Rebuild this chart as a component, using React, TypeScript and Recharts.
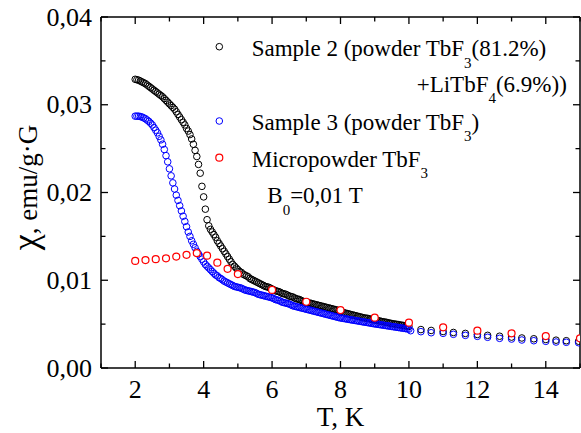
import React from 'react';
import { ScatterChart, Scatter, XAxis, YAxis, ReferenceLine, Legend } from 'recharts';

// ---------- data ----------
// temperatures of the dense measurement runs (both powder samples), K
const denseTemp = [
  2.0, 2.05, 2.1, 2.15, 2.2, 2.25, 2.3, 2.35, 2.4, 2.45, 2.5, 2.55, 2.6, 2.65, 2.7, 2.75, 2.8, 2.85, 2.9, 2.95,
  3.0, 3.05, 3.1, 3.15, 3.2, 3.25, 3.3, 3.35, 3.4, 3.45, 3.5, 3.55, 3.6, 3.65, 3.7, 3.75, 3.8, 3.85, 3.9, 3.95,
  4.0, 4.05, 4.1, 4.15, 4.2, 4.25, 4.3, 4.35, 4.4, 4.45, 4.5, 4.55, 4.6, 4.65, 4.7, 4.75, 4.8, 4.85, 4.9, 4.95,
  5.0, 5.05, 5.1, 5.15, 5.2, 5.25, 5.3, 5.35, 5.4, 5.45, 5.5, 5.55, 5.6, 5.65, 5.7, 5.75, 5.8, 5.85, 5.9, 5.95,
  6.0, 6.05, 6.1, 6.15, 6.2, 6.25, 6.3, 6.35, 6.4, 6.45, 6.5, 6.55, 6.6, 6.65, 6.7, 6.75, 6.8, 6.85, 6.9, 6.95,
  7.0, 7.05, 7.1, 7.15, 7.2, 7.25, 7.3, 7.35, 7.4, 7.45, 7.5, 7.55, 7.6, 7.65, 7.7, 7.75, 7.8, 7.85, 7.9, 7.95,
  8.0, 8.05, 8.1, 8.15, 8.2, 8.25, 8.3, 8.35, 8.4, 8.45, 8.5, 8.55, 8.6, 8.65, 8.7, 8.75, 8.8, 8.85, 8.9, 8.95,
  9.0, 9.05, 9.1, 9.15, 9.2, 9.25, 9.3, 9.35, 9.4, 9.45, 9.5, 9.55, 9.6, 9.65, 9.7, 9.75, 9.8, 9.85, 9.9, 9.95,
  10.0,
];

// Sample 2 (powder TbF3 81.2% + LiTbF4 6.9%)
const s2DenseChi = [
  0.0329, 0.03285, 0.0328, 0.0327, 0.0326, 0.0325, 0.0324, 0.03225, 0.0321, 0.03195, 0.0318, 0.03165, 0.0315, 0.03135, 0.0312, 0.03105, 0.0309, 0.0307, 0.0305, 0.0303,
  0.0301, 0.0299, 0.0297, 0.0295, 0.0292, 0.0289, 0.0286, 0.0283, 0.028, 0.0277, 0.0273, 0.027, 0.0266, 0.0261, 0.0255, 0.0248, 0.0241, 0.0232, 0.0222, 0.0207,
  0.0195, 0.0181, 0.0169, 0.0162, 0.0158, 0.0155, 0.0152, 0.0149, 0.0145, 0.0142, 0.0139, 0.0136, 0.0133, 0.013, 0.0127, 0.0124, 0.0121, 0.0118, 0.0116, 0.0114,
  0.0112, 0.011, 0.0109, 0.0107, 0.0106, 0.0105, 0.0104, 0.0102, 0.0101, 0.01, 0.0099, 0.0098, 0.0097, 0.0096, 0.0095, 0.0094, 0.0093, 0.00925, 0.0092, 0.0091,
  0.009, 0.0089, 0.0088, 0.00875, 0.0087, 0.0086, 0.0085, 0.00845, 0.0084, 0.0083, 0.0082, 0.00815, 0.0081, 0.008, 0.0079, 0.00785, 0.0078, 0.0077, 0.0076, 0.00755,
  0.0075, 0.00745, 0.0074, 0.00735, 0.0073, 0.00725, 0.0072, 0.00715, 0.0071, 0.00705, 0.007, 0.00695, 0.0069, 0.00685, 0.0068, 0.00675, 0.0067, 0.00665, 0.0066, 0.0065,
  0.0064, 0.00635, 0.0063, 0.00625, 0.0062, 0.00615, 0.0061, 0.00605, 0.006, 0.00595, 0.0059, 0.00585, 0.0058, 0.00575, 0.0057, 0.00568, 0.00565, 0.0056, 0.00555, 0.0055,
  0.00547, 0.00543, 0.0054, 0.00535, 0.0053, 0.00527, 0.00523, 0.0052, 0.00515, 0.0051, 0.00507, 0.00503, 0.005, 0.00497, 0.00494, 0.0049, 0.00487, 0.00484, 0.0048, 0.00477,
  0.00474,
];
const s2SparseTemp = [10.35, 10.65, 11.0, 11.3, 11.65, 12.0, 12.3, 12.65, 13.0, 13.3, 13.65, 14.0, 14.3, 14.6, 14.96];
const s2SparseChi = [0.00438, 0.00428, 0.00416, 0.00405, 0.00394, 0.00382, 0.00372, 0.00362, 0.00352, 0.00342, 0.00333, 0.00325, 0.00317, 0.00311, 0.00305];

// Sample 3 (powder TbF3)
const s3DenseChi = [
  0.0287, 0.0287, 0.0287, 0.02865, 0.0286, 0.0285, 0.0284, 0.02825, 0.0281, 0.0279, 0.0277, 0.0274, 0.0271, 0.0268, 0.0264, 0.026, 0.0255, 0.0249, 0.0242, 0.0235,
  0.0227, 0.0219, 0.0211, 0.0204, 0.0197, 0.0191, 0.0185, 0.0179, 0.0173, 0.0167, 0.0161, 0.0155, 0.015, 0.0145, 0.0141, 0.0137, 0.0133, 0.013, 0.0127, 0.0124,
  0.0121, 0.0118, 0.0116, 0.0114, 0.0112, 0.011, 0.0108, 0.0106, 0.0105, 0.0103, 0.0102, 0.01005, 0.0099, 0.0098, 0.0097, 0.0096, 0.0095, 0.0094, 0.0093, 0.00925,
  0.0092, 0.00915, 0.0091, 0.009, 0.0089, 0.00885, 0.0088, 0.00875, 0.0087, 0.00865, 0.0086, 0.0085, 0.0084, 0.00835, 0.0083, 0.00825, 0.0082, 0.00815, 0.0081, 0.00805,
  0.008, 0.0079, 0.0078, 0.00775, 0.0077, 0.0076, 0.0075, 0.00745, 0.0074, 0.00735, 0.0073, 0.0072, 0.0071, 0.00705, 0.007, 0.00695, 0.0069, 0.00685, 0.0068, 0.00675,
  0.0067, 0.00665, 0.0066, 0.00655, 0.0065, 0.00645, 0.0064, 0.00635, 0.0063, 0.00625, 0.0062, 0.00615, 0.0061, 0.00605, 0.006, 0.00595, 0.0059, 0.00585, 0.0058, 0.00575,
  0.0057, 0.00567, 0.00564, 0.0056, 0.00557, 0.00553, 0.0055, 0.00546, 0.00543, 0.0054, 0.00537, 0.00533, 0.0053, 0.00526, 0.00523, 0.0052, 0.00517, 0.00513, 0.0051, 0.00506,
  0.00503, 0.005, 0.00497, 0.00494, 0.00491, 0.00488, 0.00485, 0.00482, 0.00479, 0.00476, 0.00473, 0.0047, 0.00467, 0.00464, 0.00461, 0.00458, 0.00455, 0.00452, 0.00449, 0.00446,
  0.00443,
];
const s3SparseTemp = [10.05, 10.35, 10.65, 11.0, 11.3, 11.65, 12.0, 12.3, 12.65, 13.0, 13.3, 13.65, 14.0, 14.3, 14.6, 14.96];
const s3SparseChi = [0.00425, 0.00414, 0.00402, 0.00395, 0.00384, 0.00372, 0.00361, 0.0035, 0.00338, 0.0033, 0.00319, 0.00311, 0.00304, 0.00296, 0.00293, 0.00288];

// Micropowder TbF3
const microTemp = [2.0, 2.3, 2.6, 2.9, 3.2, 3.5, 3.8, 4.1, 4.4, 4.7, 5.0, 6, 7, 8, 9, 10, 11, 12, 13, 14, 15];
const microChi = [
  0.0122, 0.0123, 0.0124, 0.0125, 0.0127, 0.0129, 0.0131, 0.0128, 0.012, 0.0113, 0.0107,
  0.0089, 0.00755, 0.0066, 0.00573, 0.00516, 0.00463, 0.00425, 0.00395, 0.00364, 0.00338,
];

const xTicks = [1, 2, 3, 4, 5, 6, 7, 8, 9, 10, 11, 12, 13, 14, 15];
const xLabelTicks = [2, 4, 6, 8, 10, 12, 14];
const yTicks = [0, 0.005, 0.01, 0.015, 0.02, 0.025, 0.03, 0.035, 0.04];

// ---------- layout ----------
const W = 581;
const H = 433;
const MARGIN = { top: 17, right: 1, bottom: 5, left: 41 };
const Y_AXIS_W = 60;
const X_AXIS_H = 60;
const PLOT_TOP = MARGIN.top;
const PLOT_RIGHT = W - MARGIN.right;
const FONT = 'Liberation Serif';
const TICK_FS = 26;
const MAJOR = 7;
const MINOR = 4.5;

const toRows = (ts: number[], vs: number[]) => ts.map((t, i) => ({ T: t, chi: vs[i] }));
const s2Data = [...toRows(denseTemp, s2DenseChi), ...toRows(s2SparseTemp, s2SparseChi)];
const s3Data = [...toRows(denseTemp, s3DenseChi), ...toRows(s3SparseTemp, s3SparseChi)];
const microData = toRows(microTemp, microChi);

function XTick(props: any) {
  const { x, y, payload } = props;
  const v = payload.value;
  const major = xLabelTicks.includes(v);
  const len = major ? MAJOR : MINOR;
  return (
    <g>
      <line x1={x} x2={x} y1={y} y2={y - len} stroke="#000" strokeWidth={1.3} />
      <line x1={x} x2={x} y1={PLOT_TOP} y2={PLOT_TOP + len} stroke="#000" strokeWidth={1.3} />
      {major && (
        <text x={x} y={y + 30} textAnchor="middle" fontSize={TICK_FS} fontFamily={FONT} fill="#000">
          {v}
        </text>
      )}
    </g>
  );
}

function YTick(props: any) {
  const { x, y, payload } = props;
  const v = payload.value;
  const major = Math.abs(v * 100 - Math.round(v * 100)) < 1e-6;
  const len = major ? MAJOR : MINOR;
  return (
    <g>
      <line x1={x} x2={x + len} y1={y} y2={y} stroke="#000" strokeWidth={1.3} />
      <line x1={PLOT_RIGHT - len} x2={PLOT_RIGHT} y1={y} y2={y} stroke="#000" strokeWidth={1.3} />
      {major && (
        <text x={x - 9} y={y + 8.5} textAnchor="end" fontSize={TICK_FS} fontFamily={FONT} fill="#000">
          {v.toFixed(2).replace('.', ',')}
        </text>
      )}
    </g>
  );
}

const xLabel = (props: any) => {
  const vb = props.viewBox || {};
  return (
    <text x={vb.x + vb.width / 2} y={vb.y + 58} textAnchor="middle" fontSize={27} fontFamily={FONT} fill="#000">
      T, K
    </text>
  );
};

const yLabel = (props: any) => {
  const vb = props.viewBox || {};
  const cx = 37;
  const cy = vb.y + vb.height / 2 - 5;
  return (
    <text x={cx} y={cy} textAnchor="middle" fontFamily={FONT} fill="#000" transform={`rotate(-90, ${cx}, ${cy})`}>
      <tspan fontSize={36}>χ</tspan>
      <tspan fontSize={27}>, emu/g·G</tspan>
    </text>
  );
};

const circleShape = (color: string, r: number, fill: string, sw: number) => (p: any) => (
  <circle cx={p.cx} cy={p.cy} r={r} fill={fill} stroke={color} strokeWidth={sw} />
);

const LEG_FS = 23;
const SUB_FS = 15;

const legendContent = () => (
  <svg width={W} height={H} style={{ display: 'block', overflow: 'visible' }}>
    <g fontFamily={FONT} fill="#000">
      <circle cx={219.3} cy={46.7} r={3.3} fill="none" stroke="#000" strokeWidth={1} />
      <text x={251.7} y={55.5} fontSize={LEG_FS} fontFamily={FONT}>
        Sample 2 (powder TbF<tspan fontSize={SUB_FS} dy={12}>3</tspan>
        <tspan dy={-12}>(81.2%)</tspan>
      </text>
      <text x={416.7} y={91.7} fontSize={LEG_FS} fontFamily={FONT}>
        +LiTbF<tspan fontSize={SUB_FS} dy={11}>4</tspan>
        <tspan dy={-11}>(6.9%))</tspan>
      </text>
      <circle cx={219.3} cy={121} r={3.3} fill="none" stroke="#0000ff" strokeWidth={1} />
      <text x={251.7} y={130} fontSize={LEG_FS} fontFamily={FONT}>
        Sample 3 (powder TbF<tspan fontSize={SUB_FS} dy={11}>3</tspan>
        <tspan dy={-11}>)</tspan>
      </text>
      <circle cx={219.3} cy={157.7} r={3.5} fill="#fff" stroke="#ff0000" strokeWidth={1.2} />
      <text x={251.7} y={166.7} fontSize={LEG_FS} fontFamily={FONT}>
        Micropowder TbF<tspan fontSize={SUB_FS} dy={11}>3</tspan>
      </text>
      <text x={267.3} y={202.7} fontSize={LEG_FS} fontFamily={FONT}>
        B<tspan fontSize={SUB_FS} dy={12}>0</tspan>
        <tspan dy={-12}>=0,01 T</tspan>
      </text>
    </g>
  </svg>
);

export default function App() {
  return (
    <div style={{ position: 'absolute', left: 0, top: 0, width: W, height: H, background: '#fff' }}>
      <ScatterChart width={W} height={H} margin={MARGIN}>
        <XAxis
          dataKey="T"
          type="number"
          domain={[1, 15]}
          ticks={xTicks}
          interval={0}
          allowDataOverflow
          tickSize={0}
          tickMargin={0}
          tickLine={false}
          tick={XTick}
          height={X_AXIS_H}
          axisLine={{ stroke: '#000', strokeWidth: 1.5 }}
          label={xLabel}
        />
        <YAxis
          dataKey="chi"
          type="number"
          domain={[0, 0.04]}
          ticks={yTicks}
          interval={0}
          allowDataOverflow
          tickSize={0}
          tickMargin={0}
          tickLine={false}
          tick={YTick}
          width={Y_AXIS_W}
          axisLine={{ stroke: '#000', strokeWidth: 1.5 }}
          label={yLabel}
        />
        <ReferenceLine y={0.04} stroke="#000" strokeWidth={1.5} />
        <ReferenceLine x={15} stroke="#000" strokeWidth={1.5} />
        <Scatter name="Sample 2" data={s2Data} isAnimationActive={false} shape={circleShape('#000', 3.3, 'none', 1)} />
        <Scatter name="Sample 3" data={s3Data} isAnimationActive={false} shape={circleShape('#0000ff', 3.3, 'none', 1)} />
        <Scatter name="Micropowder" data={microData} isAnimationActive={false} shape={circleShape('#ff0000', 3.5, '#fff', 1.2)} />
        <Legend
          content={legendContent}
          layout="horizontal"
          verticalAlign="middle"
          align="center"
          wrapperStyle={{ left: 0, top: 0, width: W, height: H, pointerEvents: 'none' }}
        />
      </ScatterChart>
    </div>
  );
}
